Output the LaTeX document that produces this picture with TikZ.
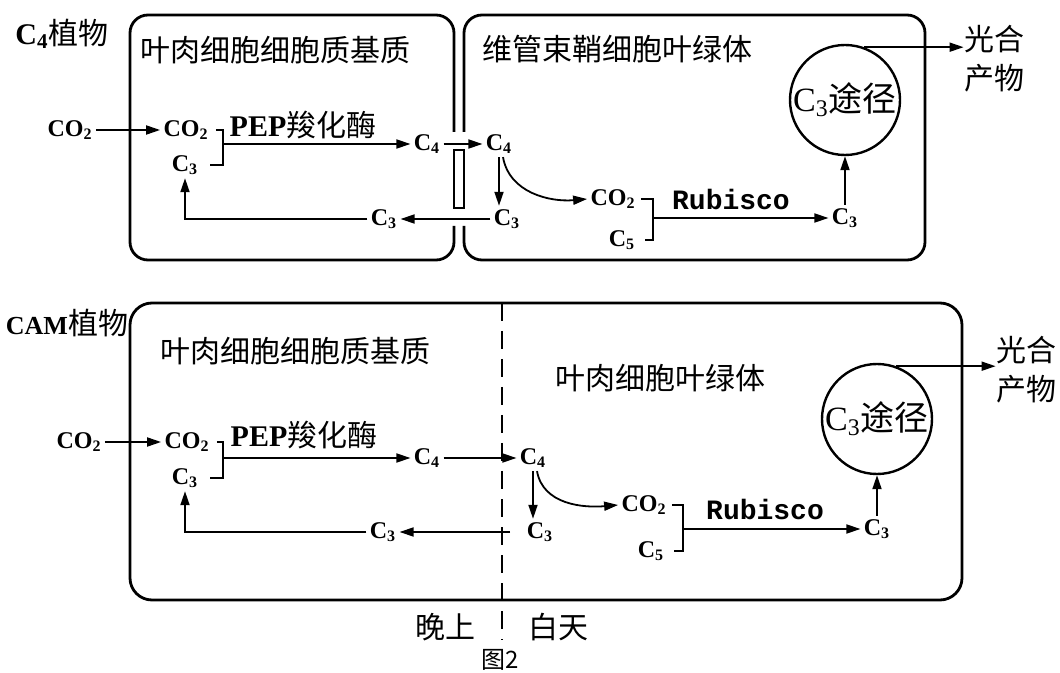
\documentclass[tikz,border=0pt]{standalone}
\usepackage{fontspec}
\setmainfont{Liberation Serif}
\newfontfamily\cjk{Noto Sans CJK SC}
\newfontfamily\rubfont{Liberation Mono}
\usetikzlibrary{positioning,arrows.meta}
\newcommand\carb[1]{C\textsubscript{#1}}

\begin{document}
\begin{tikzpicture}[
  x=0.5pt, y=-0.5pt,
  wall/.style={line width=1.4pt, rounded corners=9pt},
  divider/.style={line width=1pt, dash pattern=on 9pt off 5pt},
  title/.style={font=\cjk\fontsize{15}{19.5}\selectfont, inner sep=0pt},
  caption/.style={font=\cjk\fontsize{12}{14}\selectfont, inner sep=0pt},
  chem/.style={font=\bfseries\fontsize{12}{14}\selectfont, inner sep=1.5pt},
  enzyme/.style={font=\fontsize{15}{17}\selectfont, inner sep=1pt},
  rubisco/.style={font=\rubfont\bfseries\fontsize{14}{16}\selectfont, inner sep=1pt},
  pathway/.style={circle, draw, line width=1.2pt, minimum size=55pt, inner sep=0pt, font=\fontsize{17}{20}\selectfont},
  arrow/.style={-{Triangle[length=7pt,width=4.5pt]}, line width=0.9pt},
  bracket/.style={line width=0.9pt}
]
\useasboundingbox (0,0) rectangle (1060,673);

% C4 plant
\node[title] (c4title) at (62,34) {{\rmfamily\bfseries\carb{4}}植物};
\draw[wall] (454,132) -- (454,15) -- (130,15) -- (130,260) -- (454,260) -- (454,226);
\draw[wall] (464,132) -- (464,15) -- (925,15) -- (925,260) -- (464,260) -- (464,226);
\draw[wall, rounded corners=0pt] (454,150) rectangle (464,208);
\node[title] (meso) at (275,50) {叶肉细胞细胞质基质};
\node[title] (sheath) at (617,49) {维管束鞘细胞叶绿体};

\node[chem] (co2out) at (70,130) {CO\textsubscript{2}};
\node[chem] (co2a) at (186,130) {CO\textsubscript{2}};
\node[chem] (c3a) at (185,165) {\carb{3}};
\coordinate (brka) at (223,144);
\node[enzyme] (pep) at (303,125) {{\bfseries PEP}{\cjk 羧化酶}};
\node[chem] (c4a) at (427,144) {\carb{4}};
\node[chem] (c4b) at (499,144) {\carb{4}};
\node[chem] (c3b) at (507,219) {\carb{3}};
\node[chem] (c3c) at (384,219) {\carb{3}};
\node[chem] (co2b) at (613,199) {CO\textsubscript{2}};
\node[chem] (c5b) at (622,240) {\carb{5}};
\coordinate (brkb) at (653,218);
\node[rubisco] (rub) at (731,199) {Rubisco};
\node[chem] (c3d) at (845,218) {\carb{3}};
\node[pathway] (cycle) at (845,100) {\carb{3}{\cjk 途径}};
\node[title, align=left] (prod) at (994,59) {光合\\产物};

\draw[arrow] (co2out) -- (co2a);
\draw[bracket] ([xshift=2pt]co2a.east) -| (brka) |- ([xshift=4pt]c3a.east);
\draw[arrow] (brka) -- (c4a.west);
\draw[arrow] (c4a) -- (c4b);
\draw[arrow] (c4b.south) -- (c4b.south |- c3b.north);
\draw[arrow] ([xshift=2pt]c4b.south) to[out=-80, in=185] (co2b.west);
\draw[arrow] (c3b) -- (c3c);
\draw[arrow] (c3c.west) -| (c3a.south);
\draw[bracket] ([xshift=1pt]co2b.east) -| (brkb) |- ([xshift=3pt]c5b.east);
\draw[arrow] (brkb) -- (c3d.west);
\draw[arrow] (c3d) -- (cycle);
\draw[arrow] (cycle.70) -- (cycle.70 -| prod.west);

% CAM plant
\node[title] (camtitle) at (67,323) {{\rmfamily\bfseries\fontsize{13}{15}\selectfont CAM}植物};
\draw[wall, rounded corners=11pt] (130,303) rectangle (962,600);
\draw[divider] (502,303) -- (502,640);
\node[title] (meso2) at (295,351) {叶肉细胞细胞质基质};
\node[title] (chloro) at (660,378) {叶肉细胞叶绿体};

\node[chem] (co2out2) at (79,442) {CO\textsubscript{2}};
\node[chem] (co2c) at (187,442) {CO\textsubscript{2}};
\node[chem] (c3e) at (185,478) {\carb{3}};
\coordinate (brkc) at (223,458);
\node[enzyme] (pep2) at (304,435) {{\bfseries PEP}{\cjk 羧化酶}};
\node[chem] (c4c) at (427,458) {\carb{4}};
\node[chem] (c4d) at (533,458) {\carb{4}};
\node[chem] (c3f) at (540,532) {\carb{3}};
\node[chem] (c3g) at (383,532) {\carb{3}};
\coordinate (dusk) at (510,532);
\node[chem] (co2d) at (644,505) {CO\textsubscript{2}};
\node[chem] (c5d) at (651,551) {\carb{5}};
\coordinate (brkd) at (683,529);
\node[rubisco] (rub2) at (765,509) {Rubisco};
\node[chem] (c3h) at (877,529) {\carb{3}};
\node[pathway] (cycle2) at (877,419) {\carb{3}{\cjk 途径}};
\node[title, align=left] (prod2) at (1026,370) {光合\\产物};
\node[title] (night) at (445,627) {晚上};
\node[title] (day) at (558,627) {白天};
\node[caption] (fig) at (500,660) {图2};

\draw[arrow] (co2out2) -- (co2c);
\draw[bracket] ([xshift=2pt]co2c.east) -| (brkc) |- ([xshift=4pt]c3e.east);
\draw[arrow] (brkc) -- (c4c.west);
\draw[arrow] (c4c) -- (c4d);
\draw[arrow] (c4d.south) -- (c4d.south |- c3f.north);
\draw[arrow] ([xshift=2pt]c4d.south) to[out=-80, in=185] (co2d.west);
\draw[arrow] (dusk) -- (c3g);
\draw[arrow] (c3g.west) -| (c3e.south);
\draw[bracket] ([xshift=1pt]co2d.east) -| (brkd) |- ([xshift=3pt]c5d.east);
\draw[arrow] (brkd) -- (c3h.west);
\draw[arrow] (c3h) -- (cycle2);
\draw[arrow] (cycle2.70) -- (cycle2.70 -| prod2.west);
\end{tikzpicture}
\end{document}
